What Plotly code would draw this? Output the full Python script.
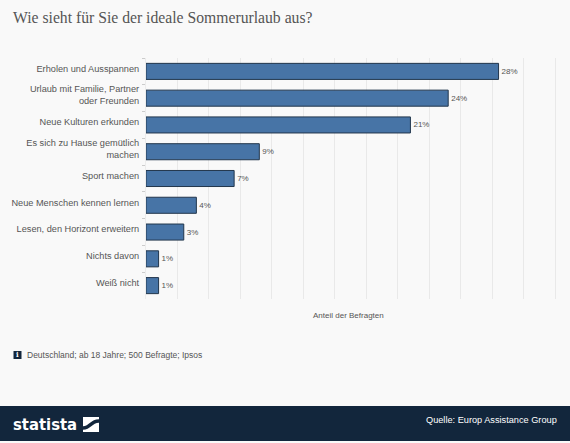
import plotly.graph_objects as go

categories = [
    "Erholen und Ausspannen",
    "Urlaub mit Familie, Partner<br>oder Freunden",
    "Neue Kulturen erkunden",
    "Es sich zu Hause gemütlich<br>machen",
    "Sport machen",
    "Neue Menschen kennen lernen",
    "Lesen, den Horizont erweitern",
    "Nichts davon",
    "Weiß nicht",
]
values = [28, 24, 21, 9, 7, 4, 3, 1, 1]

title_text = "Wie sieht für Sie der ideale Sommerurlaub aus?"
axis_title = "Anteil der Befragten"
note_text = "Deutschland; ab 18 Jahre; 500 Befragte; Ipsos"
source_text = "Quelle: Europ Assistance Group"
logo_text = "statista"

W, H = 570, 443
ML, MR, MT, MB = 146, 11, 58, 144
PW = W - ML - MR
PH = H - MT - MB


def xp(px):
    return (px - ML) / PW


def yp(py):
    return (H - MB - py) / PH


NAVY = "#12263c"
BG = "#f9f9f9"
SANS = "Liberation Sans, Arial, sans-serif"

fig = go.Figure()
fig.add_trace(go.Bar(
    x=values,
    y=categories,
    orientation="h",
    marker=dict(color="#4774a6", line=dict(color="#22364c", width=1)),
    text=[f"{v}%" for v in values],
    textposition="outside",
    textfont=dict(family=SANS, size=8, color="#555555"),
    cliponaxis=False,
    hoverinfo="skip",
))

fig.update_layout(
    width=W,
    height=H,
    margin=dict(l=ML, r=MR, t=MT, b=MB, pad=0, autoexpand=False),
    paper_bgcolor=BG,
    plot_bgcolor=BG,
    showlegend=False,
    bargap=0.4,
    title=dict(
        text=title_text,
        x=13 / W, xanchor="left", xref="container",
        y=1 - 18 / H, yanchor="middle", yref="container",
        font=dict(family="Liberation Serif, Georgia, serif", size=15.7, color="#555555"),
    ),
    xaxis=dict(
        range=[0, 32.8],
        dtick=2.5,
        tick0=0,
        showticklabels=False,
        showgrid=True,
        gridcolor="#e9e9e9",
        gridwidth=1,
        zeroline=False,
        showline=False,
        ticks="",
        automargin=False,
    ),
    yaxis=dict(
        type="category",
        categoryorder="array",
        categoryarray=categories,
        autorange="reversed",
        tickson="boundaries",
        ticks="outside",
        ticklen=3,
        tickcolor="#cccccc",
        showline=True,
        linecolor="#ececec",
        showgrid=False,
        tickfont=dict(family=SANS, size=9.2, color="#555555"),
        ticklabelstandoff=4,
        ticklabelshift=3,
        automargin=False,
    ),
)

annotations = [
    dict(text=axis_title, xref="paper", yref="paper", x=0.49, y=yp(315),
         xanchor="center", yanchor="middle", showarrow=False,
         font=dict(family=SANS, size=8, color="#555555")),
    dict(text=note_text, xref="paper", yref="paper", x=xp(25), y=yp(355),
         xanchor="left", yanchor="middle", showarrow=False,
         font=dict(family=SANS, size=8.5, color="#555555")),
    dict(text="<b>i</b>", xref="paper", yref="paper", x=xp(17.5), y=yp(354.5),
         xanchor="center", yanchor="middle", showarrow=False,
         font=dict(family="DejaVu Serif, serif", size=7, color="#ffffff")),
    dict(text=f"<b>{logo_text}</b>", xref="paper", yref="paper", x=xp(11), y=yp(424),
         xanchor="left", yanchor="middle", showarrow=False,
         font=dict(family="Liberation Sans Narrow, DejaVu Sans Condensed, Roboto, sans-serif",
                   size=16.5, color="#ffffff")),
    dict(text=source_text, xref="paper", yref="paper", x=xp(559), y=yp(420),
         xanchor="right", yanchor="middle", showarrow=False,
         font=dict(family=SANS, size=9.2, color="#ffffff")),
]
fig.update_layout(annotations=annotations)

shapes = [
    # footer band
    dict(type="rect", xref="paper", yref="paper", x0=xp(0), x1=xp(W), y0=yp(406), y1=yp(441),
         fillcolor=NAVY, line=dict(width=0), layer="below"),
    # info icon
    dict(type="rect", xref="paper", yref="paper", x0=xp(13.5), x1=xp(21.5), y0=yp(351), y1=yp(359),
         fillcolor=NAVY, line=dict(width=0)),
    # logo icon square
    dict(type="rect", xref="paper", yref="paper", x0=xp(83), x1=xp(99), y0=yp(417), y1=yp(432),
         fillcolor="#ffffff", line=dict(width=0)),
]
# logo icon stripe
x0, x1 = xp(83), xp(99)
ya, yb = yp(417), yp(432)
def P(fx, fy):
    return f"{x0 + (x1 - x0) * fx} {ya + (yb - ya) * fy}"
path = (f"M {P(0, 0.62)} C {P(0.35, 0.62)} {P(0.5, 0.15)} {P(1, 0.15)} "
        f"L {P(1, 0.38)} C {P(0.6, 0.38)} {P(0.45, 0.85)} {P(0, 0.85)} Z")
shapes.append(dict(type="path", xref="paper", yref="paper", path=path,
                   fillcolor=NAVY, line=dict(width=0)))
fig.update_layout(shapes=shapes)

fig.write_html("out.html")
